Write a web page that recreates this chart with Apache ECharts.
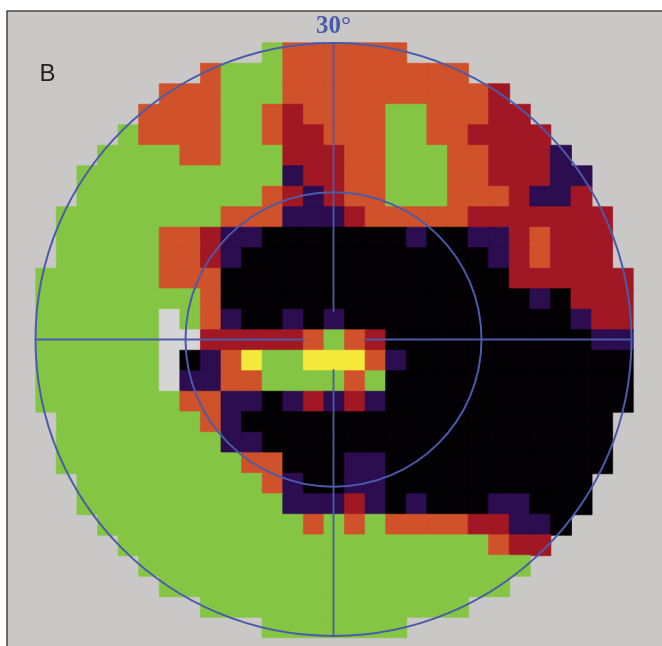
<!DOCTYPE html>
<html>
<head>
<meta charset="utf-8">
<style>html,body{margin:0;padding:0;background:#fff}#c{width:662px;height:646px}</style>
<script src="https://cdn.jsdelivr.net/npm/echarts@6/dist/echarts.min.js"></script>
</head>
<body>
<div id="c"></div>
<script>
// Field map read cell by cell: . outside, G/W/O/R/P/K/Y sensitivity classes
const rows = [
"...........GOOOOOO...........",
"........OGGGOOOOOOOOO........",
"......OOOGGGOOOOOOOOOOR......",
".....OOOOGGOROOOOGGOOORR.....",
"....GOOOOGGORROOOGGOORRRR....",
"...GGGGOOGGGRRROOGGGOORRRP...",
"..GGGGGGGGGGPRROOGGGOORRRPP..",
"..GGGGGGGGGORPROOGGGOOORPPR..",
".GGGGGGGGOOOPPPROOOOORRRRRRR.",
".GGGGGOORPPKKKKKKKPKKPPRORRR.",
".GGGGGOORPKKKKKKKKKKKKPRORRR.",
"GGGGGGOOOKKKKKKKKKKKKKKRRRRRR",
"GGGGGGGGOKKKKKKKKKKKKKKKPKRRR",
"GGGGGGWGOPKKPKPKKKKKKKKKKKPRR",
"GGGGGGWWRRRRROGORKKKKKKKKKKPP",
"GGGGGGWKPOYGGYYYOPKKKKKKKKKKK",
"GGGGGGWPPOOGGGGOGKKKKKKKKKKKK",
"GGGGGGGOOPPKPRPRPKKKKKKKKKKKK",
".GGGGGGGOPKKKKKKKKKKKKKKKKKK.",
".GGGGGGGGPPKKKKKKKKKKKKKKKKK.",
".GGGGGGGGGOOKKKPPKKKKKKKKKKK.",
"..GGGGGGGGGOPKKPPKKKKKKKKKK..",
"..GGGGGGGGGGPPPRPKPKKKPPKKK..",
"...GGGGGGGGGGOGOGOOOORRPPK...",
"....GGGGGGGGGGGGGGGGGGORR....",
".....GGGGGGGGGGGGGGGGGGG.....",
"......GGGGGGGGGGGGGGGGG......",
"........GGGGGGGGGGGGG........",
"...........GGGGGGG..........."
];
const levelCodes = ["K","P","R","O","G","Y","W"];
const levelColors = ["#030103","#2b0d50","#a11824","#d0522a","#85c544","#f4e93b","#d5d5d5"];
const circleRadii = [30, 14.9];
const crossSegments = [
  [-30, 0, -2.9, 0],
  [3.2, 0, 30, 0],
  [0, 30, 0, 2.8],
  [0, -3, 0, -30]
];
const panelLabel = "B";
const scaleLabel = "30°";

const blue = "#4b5bab";
const cols = rows[0].split("").map((_, i) => String(i));
const rowNames = rows.map((_, i) => String(i));
const cells = [];
rows.forEach((r, y) => r.split("").forEach((ch, x) => {
  const lv = levelCodes.indexOf(ch);
  if (lv >= 0) cells.push({value: [x, y, lv],
    itemStyle: {color: levelColors[lv], borderColor: levelColors[lv], borderWidth: 0.7}});
}));

const chart = echarts.init(document.getElementById("c"), null, {renderer: "canvas"});
chart.setOption({
  animation: false,
  backgroundColor: "#ffffff",
  graphic: [
    {type: "rect", z: -10, silent: true,
     shape: {x: 7, y: 11, width: 670, height: 650},
     style: {fill: "#c9c8c6", stroke: "#444444", lineWidth: 1.5}},
    {type: "text", z: 100, silent: true, x: 39.5, y: 62,
     style: {text: panelLabel, font: "24px 'Liberation Sans'", fill: "#222222"}},
    {type: "text", z: 100, silent: true, x: 316, y: 14,
     style: {text: scaleLabel, font: "bold 25px 'Liberation Serif'", fill: blue}}
  ],
  grid: [
    {left: 36, top: 43, width: 597, height: 594.5},
    {left: 35.5, top: 43, width: 596, height: 593}
  ],
  xAxis: [
    {type: "category", data: cols, gridIndex: 0, show: false},
    {type: "value", min: -30, max: 30, gridIndex: 1, show: false}
  ],
  yAxis: [
    {type: "category", data: rowNames, inverse: true, gridIndex: 0, show: false},
    {type: "value", min: -30, max: 30, gridIndex: 1, show: false}
  ],
  visualMap: {
    show: false, type: "piecewise", seriesIndex: 0, dimension: 2,
    pieces: levelColors.map((c, i) => ({value: i, color: c}))
  },
  series: [
    {type: "heatmap", xAxisIndex: 0, yAxisIndex: 0, data: cells, z: 2,
     emphasis: {disabled: true}},
    {type: "custom", xAxisIndex: 1, yAxisIndex: 1, z: 5, silent: true,
     coordinateSystem: "cartesian2d",
     encode: {x: 0, y: 1},
     data: circleRadii.map(r => [0, 0, r]),
     renderItem: (params, api) => {
       const c = api.coord([api.value(0), api.value(1)]);
       const s = api.size([api.value(2), api.value(2)]);
       return {type: "ellipse",
         shape: {cx: c[0], cy: c[1], rx: s[0], ry: s[1]},
         style: {fill: "none", stroke: blue, lineWidth: 2}};
     }},
    {type: "custom", xAxisIndex: 1, yAxisIndex: 1, z: 5, silent: true,
     coordinateSystem: "cartesian2d",
     encode: {x: [0, 2], y: [1, 3]},
     data: crossSegments,
     renderItem: (params, api) => {
       const a = api.coord([api.value(0), api.value(1)]);
       const b = api.coord([api.value(2), api.value(3)]);
       return {type: "line",
         shape: {x1: a[0], y1: a[1], x2: b[0], y2: b[1]},
         style: {stroke: blue, lineWidth: 1.8}};
     }}
  ]
});
</script>
</body>
</html>
